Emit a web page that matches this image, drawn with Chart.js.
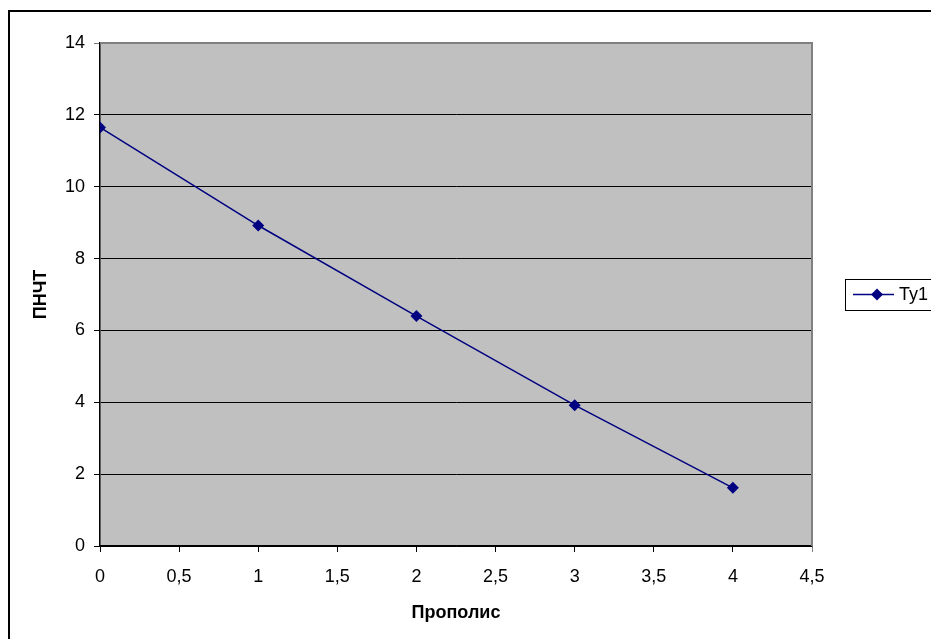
<!DOCTYPE html>
<html>
<head>
<meta charset="utf-8">
<script src="https://cdn.jsdelivr.net/npm/chart.js@4/dist/chart.umd.min.js"></script>
<style>
html,body{margin:0;padding:0;background:#fff;}
#wrap{width:931px;height:639px;position:relative;}
</style>
</head>
<body>
<div id="wrap"><canvas id="c" width="931" height="639"></canvas></div>
<script>
const xValues = [0, 1, 2, 3, 4];
const yValues = [11.65, 8.92, 6.40, 3.92, 1.62];
const seriesName = 'Ty1';
const xTitle = 'Прополис';
const yTitle = 'ПНЧТ';

const FONT = "'Liberation Sans', Arial, sans-serif";

const framePlugin = {
  id: 'frame',
  beforeDraw(chart) {
    const ctx = chart.ctx;
    const a = chart.chartArea;
    ctx.save();
    ctx.fillStyle = '#ffffff';
    ctx.fillRect(0, 0, chart.width, chart.height);
    ctx.fillStyle = '#C0C0C0';
    ctx.fillRect(a.left, a.top, a.right - a.left, a.bottom - a.top);
    ctx.restore();
  },
  afterDraw(chart) {
    const ctx = chart.ctx;
    const a = chart.chartArea;
    ctx.save();
    ctx.strokeStyle = '#808080';
    ctx.lineWidth = 2;
    ctx.beginPath();
    ctx.moveTo(a.left, a.top);
    ctx.lineTo(a.right, a.top);
    ctx.lineTo(a.right, a.bottom);
    ctx.stroke();
    ctx.strokeStyle = '#000000';
    ctx.lineWidth = 2;
    ctx.beginPath();
    ctx.moveTo(9, chart.height + 2);
    ctx.lineTo(9, 11);
    ctx.lineTo(chart.width + 2, 11);
    ctx.stroke();
    const ds = chart.data.datasets[0];
    const bx = 845, by = 279, bh = 31;
    ctx.fillStyle = '#ffffff';
    ctx.fillRect(bx, by, chart.width - bx + 5, bh);
    ctx.strokeStyle = '#000000';
    ctx.lineWidth = 1;
    ctx.strokeRect(bx + 0.5, by + 0.5, chart.width - bx + 5, bh);
    const ly = by + bh / 2;
    ctx.strokeStyle = ds.borderColor;
    ctx.lineWidth = ds.borderWidth;
    ctx.beginPath();
    ctx.moveTo(853, ly);
    ctx.lineTo(894, ly);
    ctx.stroke();
    const r = ds.pointRadius;
    ctx.fillStyle = ds.pointBackgroundColor;
    ctx.beginPath();
    ctx.moveTo(877, ly - r);
    ctx.lineTo(877 + r, ly);
    ctx.lineTo(877, ly + r);
    ctx.lineTo(877 - r, ly);
    ctx.closePath();
    ctx.fill();
    ctx.fillStyle = '#000000';
    ctx.font = '18px ' + FONT;
    ctx.textBaseline = 'middle';
    ctx.textAlign = 'left';
    ctx.fillText(ds.label, 899, ly + 1);
    ctx.restore();
  }
};

new Chart(document.getElementById('c'), {
  type: 'line',
  data: {
    datasets: [{
      label: seriesName,
      data: xValues.map((x, i) => ({x: x, y: yValues[i]})),
      borderColor: '#000080',
      backgroundColor: '#000080',
      pointBackgroundColor: '#000080',
      pointBorderColor: '#000080',
      pointStyle: 'rectRot',
      pointRadius: 6,
      pointBorderWidth: 0,
      borderWidth: 1.5,
      tension: 0,
      fill: false
    }]
  },
  options: {
    responsive: false,
    animation: false,
    events: [],
    layout: { padding: { left: 26, right: 119, top: 43, bottom: 11 } },
    plugins: { legend: { display: false }, tooltip: { enabled: false } },
    scales: {
      x: {
        type: 'linear',
        min: 0, max: 4.5,
        afterFit(s) { s.height = 82; },
        border: { color: '#000000', width: 1.5 },
        grid: {
          drawOnChartArea: false, drawTicks: true, tickLength: 6,
          color: (c) => (c.tick && c.tick.value === 4.5) ? '#808080' : '#000000',
          lineWidth: 1
        },
        ticks: {
          stepSize: 0.5, autoSkip: false, maxRotation: 0, padding: 14,
          color: '#000000', font: { family: FONT, size: 18 },
          callback: (v) => String(v).replace('.', ',')
        },
        title: { display: true, text: xTitle, color: '#000000', font: { family: FONT, size: 18, weight: 'bold' }, padding: { top: 4, bottom: 4 } }
      },
      y: {
        type: 'linear',
        min: 0, max: 14,
        afterFit(s) { s.width = 74; },
        border: { color: '#000000', width: 1.5 },
        grid: {
          drawTicks: true, tickLength: 6,
          color: (c) => (c.tick && c.tick.value === 14) ? '#808080' : '#000000',
          lineWidth: 1
        },
        ticks: {
          stepSize: 2, padding: 9, color: '#000000', font: { family: FONT, size: 18 }
        },
        title: { display: true, text: yTitle, color: '#000000', font: { family: FONT, size: 18, weight: 'bold' }, padding: { top: 4, bottom: 4 } }
      }
    }
  },
  plugins: [framePlugin]
});
</script>
</body>
</html>
